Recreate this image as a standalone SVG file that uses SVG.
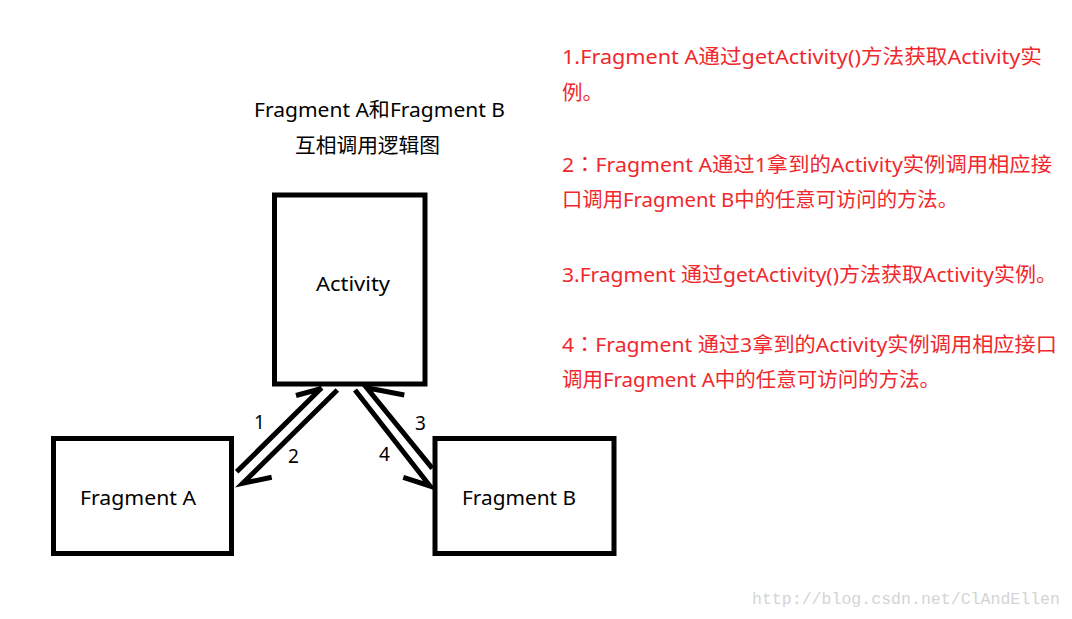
<svg xmlns="http://www.w3.org/2000/svg" width="1072" height="619" viewBox="0 0 1072 619">
<style>
.box{fill:#fff;stroke:#000;stroke-width:5}
.lbl{font-family:"Noto Sans","Noto Sans CJK SC",sans-serif;font-size:20px;fill:#000}
.red{font-family:"Noto Sans","Noto Sans CJK SC",sans-serif;font-size:20.5px;fill:#f0282d}
.colon{font-family:"Noto Sans CJK TC",sans-serif}
.arr{fill:none;stroke:#000;stroke-width:5;stroke-linecap:butt;stroke-linejoin:miter}
.num{font-family:"Noto Sans",sans-serif;font-size:19px;fill:#000}
.wm{font-family:"Liberation Mono",monospace;font-size:16px;fill:#d4d4d4}
</style>
<rect width="1072" height="619" fill="#fff"/>
<g id="title">
<text class="lbl" x="254" y="117" textLength="251" lengthAdjust="spacingAndGlyphs">Fragment A和Fragment B</text>
<text class="lbl" x="295" y="153" textLength="145" lengthAdjust="spacingAndGlyphs">互相调用逻辑图</text>
</g>
<g id="activity">
<rect class="box" x="274.5" y="195" width="150.5" height="189"/>
<text class="lbl" x="316" y="291" textLength="74" lengthAdjust="spacingAndGlyphs">Activity</text>
</g>
<g id="fragmentA">
<rect class="box" x="53.5" y="438.5" width="178" height="115"/>
<text class="lbl" x="80" y="505" textLength="116" lengthAdjust="spacingAndGlyphs">Fragment A</text>
</g>
<g id="fragmentB">
<rect class="box" x="435" y="438.5" width="179" height="115"/>
<text class="lbl" x="462" y="505" textLength="114" lengthAdjust="spacingAndGlyphs">Fragment B</text>
</g>
<g id="connectors">
<path class="arr" d="M236.7,471.7 L321.7,387.8 M296,395.5 L321.7,388.5"/>
<path class="arr" d="M337.3,390 L242.7,483.3 L271.7,477.3"/>
<path class="arr" d="M432.3,468.3 L366.7,387.8 L404.3,395"/>
<path class="arr" d="M355,390 L430,486 L403.3,477.3"/>
<text class="num" x="254" y="429">1</text>
<text class="num" x="288" y="463">2</text>
<text class="num" x="415" y="430">3</text>
<text class="num" x="379" y="461">4</text>
</g>
<g id="notes">
<text class="red" x="562" y="64" textLength="480" lengthAdjust="spacingAndGlyphs">1.Fragment A通过getActivity()方法获取Activity实</text>
<text class="red" x="562" y="100">例。</text>
<text class="red" x="562" y="172" textLength="490" lengthAdjust="spacingAndGlyphs">2<tspan class="colon">：</tspan>Fragment A通过1拿到的Activity实例调用相应接</text>
<text class="red" x="562" y="207" textLength="396" lengthAdjust="spacingAndGlyphs">口调用Fragment B中的任意可访问的方法。</text>
<text class="red" x="562" y="282" textLength="495" lengthAdjust="spacingAndGlyphs">3.Fragment 通过getActivity()方法获取Activity实例。</text>
<text class="red" x="562" y="352" textLength="495" lengthAdjust="spacingAndGlyphs">4<tspan class="colon">：</tspan>Fragment 通过3拿到的Activity实例调用相应接口</text>
<text class="red" x="562" y="387" textLength="378" lengthAdjust="spacingAndGlyphs">调用Fragment A中的任意可访问的方法。</text>
</g>
<text class="wm" x="752" y="604" textLength="308" lengthAdjust="spacingAndGlyphs">http://blog.csdn.net/ClAndEllen</text>
</svg>
